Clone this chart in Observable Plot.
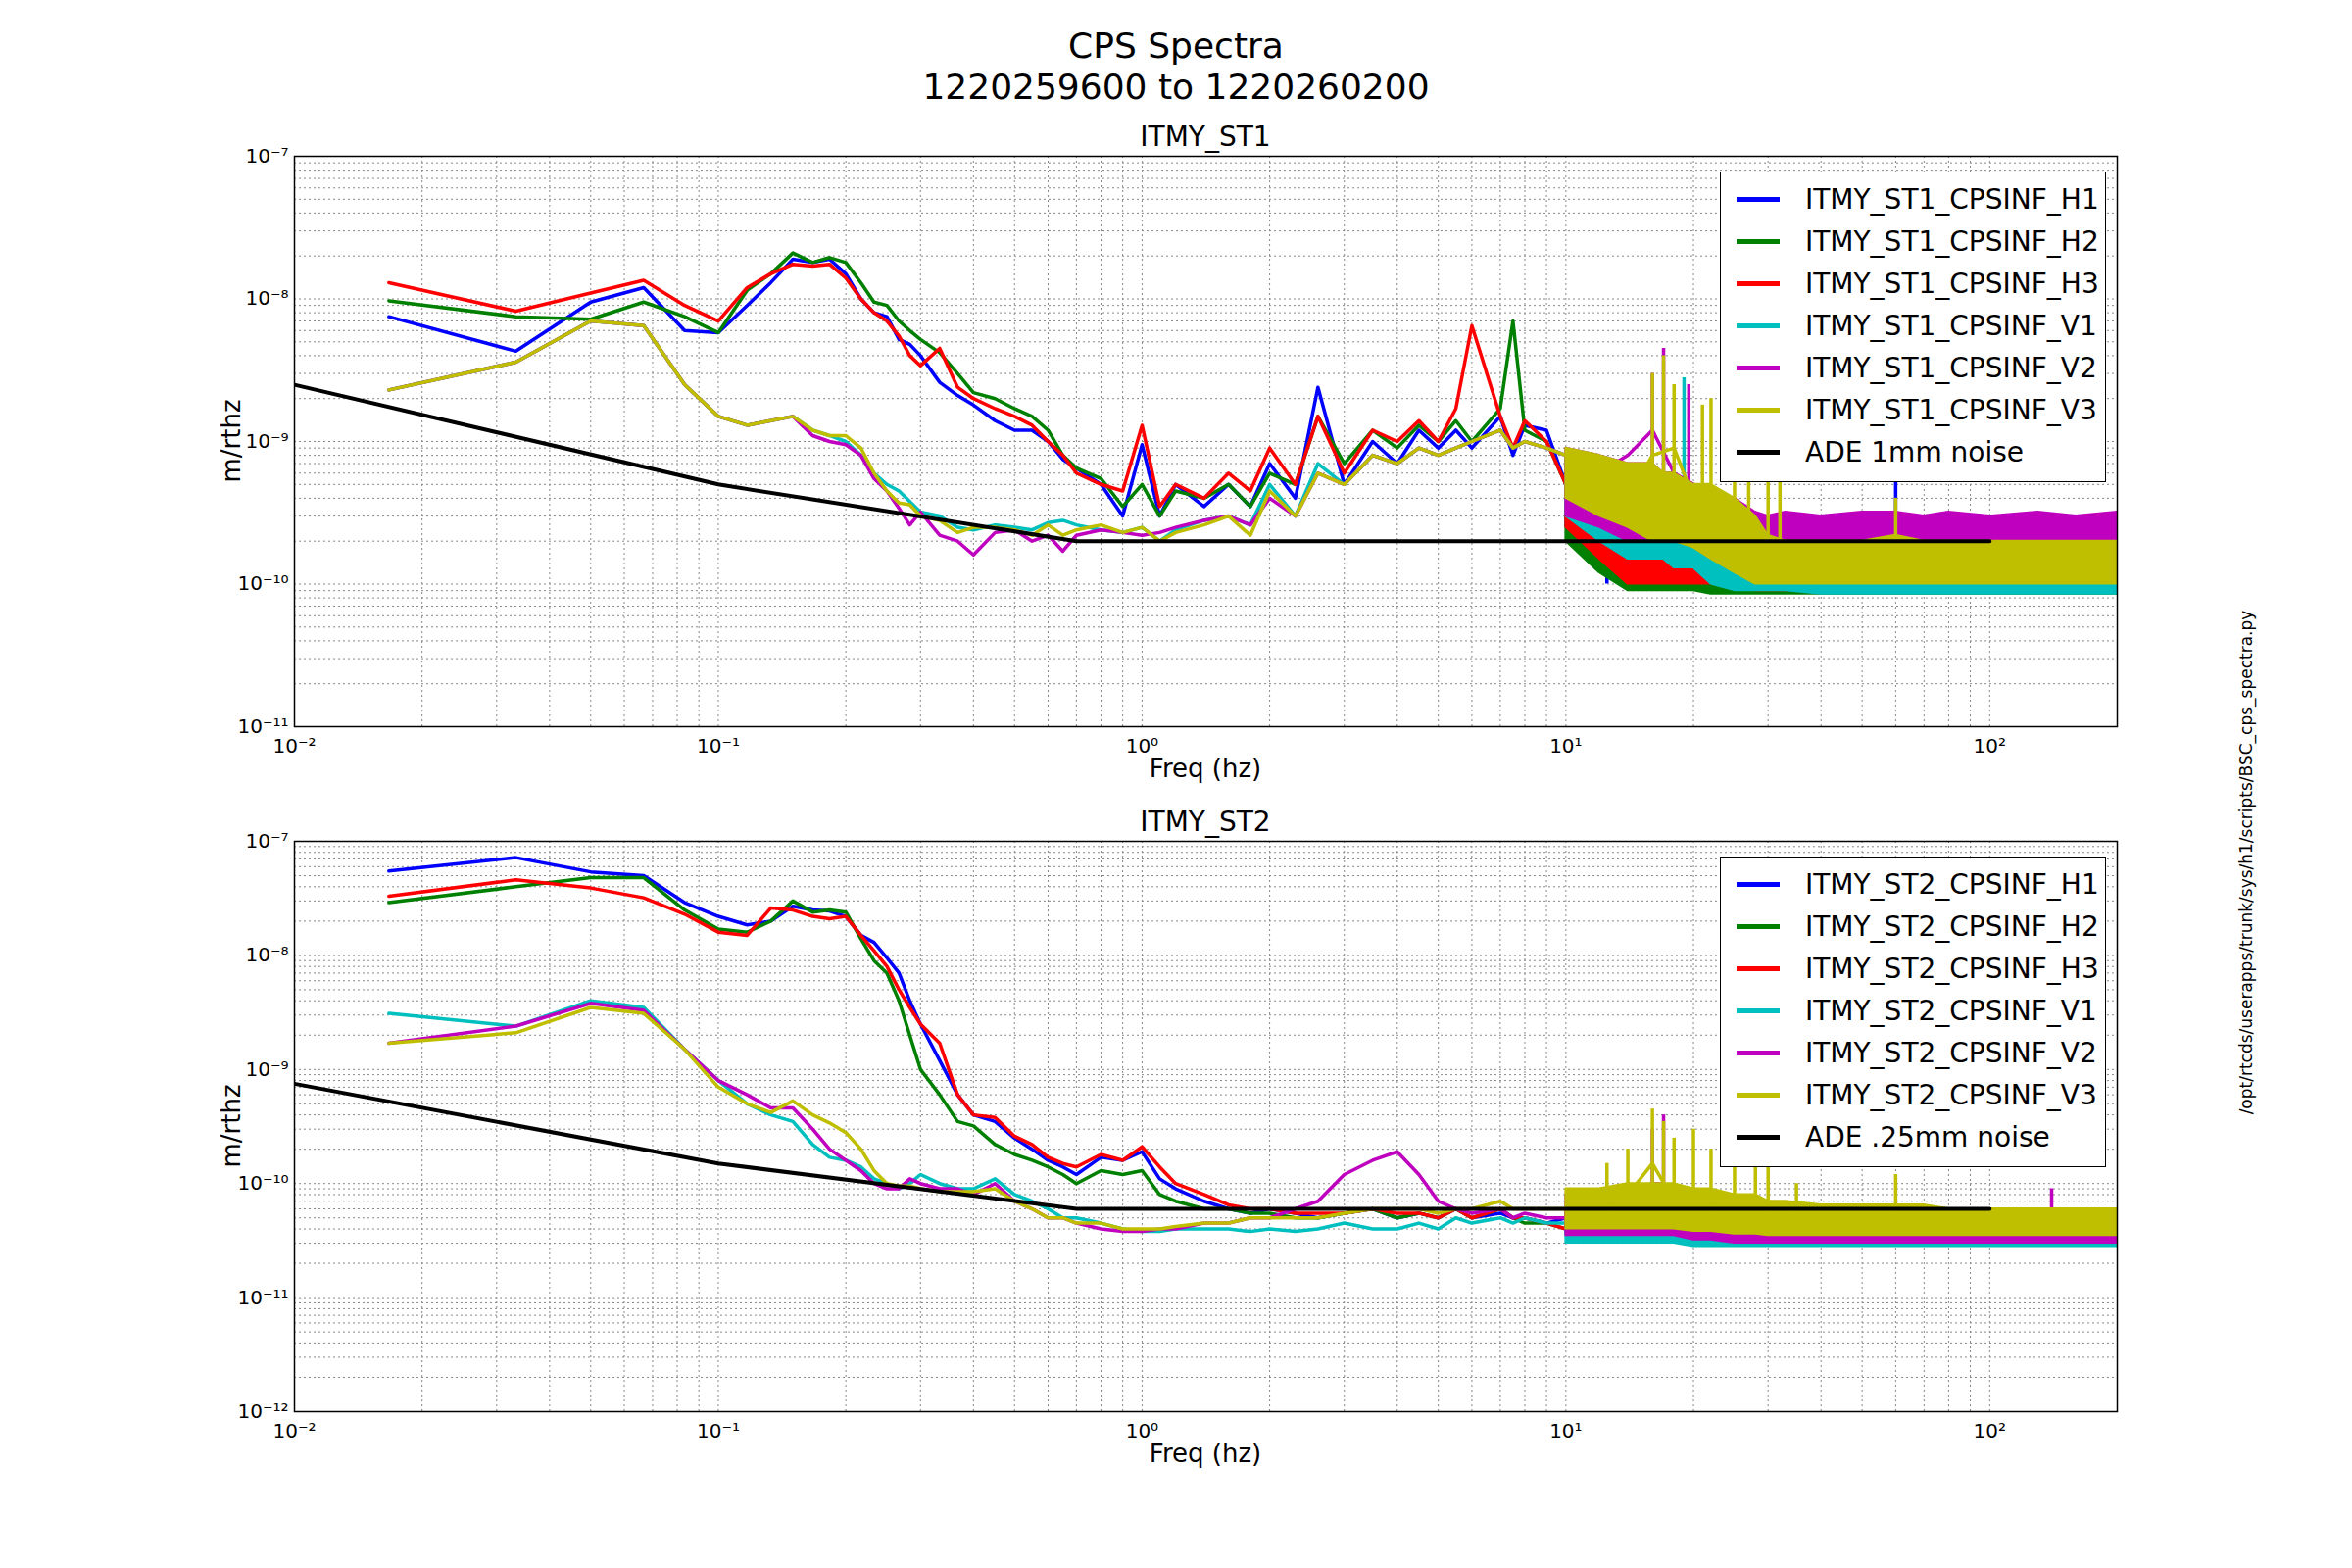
<!DOCTYPE html>
<html><head><meta charset="utf-8">
<script src="https://cdn.jsdelivr.net/npm/d3@7"></script>
<script src="https://cdn.jsdelivr.net/npm/@observablehq/plot@0.6"></script>
<style>
body{margin:0;background:#fff;font-family:"DejaVu Sans",sans-serif;}
#wrap{position:relative;width:2400px;height:1600px;}
.abs{position:absolute;}
.t{width:2400px;text-align:center;font-size:36px;}
.leg{border:1.5px solid #000;background:#fff;font-size:28px;padding:6px 0 8px 0;}
.leg div{display:flex;align-items:center;height:43px;}
.leg span.sw{display:inline-block;width:44px;height:5px;margin:0 26px 0 16px;}
</style></head><body>
<div id="wrap">
<div class="abs t" style="top:26px">CPS Spectra</div>
<div class="abs t" style="top:68px">1220259600 to 1220260200</div>
</div>
<script>
// frequencies (Hz) for the low-frequency lines
const freqs = [0.0167,0.0333,0.05,0.0667,0.0833,0.1,0.117,0.133,0.15,0.167,0.183,0.2,0.217,0.233,0.25,0.267,0.283,0.3,0.333,0.367,0.4,0.45,0.5,0.55,0.6,0.65,0.7,0.8,0.9,1.0,1.1,1.2,1.4,1.6,1.8,2.0,2.3,2.6,3.0,3.5,4,4.5,5,5.5,6,7,7.5,8,9,10,11,12,14,16,18,20];
// values in units of 1e-10 m/rthz
const st1_H1 = [75,43,95,120,60,58,90,130,190,180,190,150,100,80,75,52,48,40,26,21,18,14,12,12,10,7.5,6.5,5,3,9.5,3,5,3.5,5,3.5,7,4,24,5,10,7,12,9,12,9,15,8,13,12,5,4,2,3.5,1.7,2,1.5];
const st1_H2 = [97,75,72,95,75,58,115,150,210,180,195,180,130,95,90,70,60,52,42,30,22,20,17,15,12,8,6.5,5.5,3.5,5,3,4.5,4,5,3.5,6,5,15,7,12,9,13,10,14,10,17,70,12,10,5,3,1.6,2.5,1.5,1.6,1.5];
const st1_H3 = [130,82,110,135,90,70,120,150,175,170,175,140,100,80,70,55,40,34,45,24,20,17,15,13,10,8,6,5,4.5,13,3.5,5,4,6,4.5,9,5,15,6,12,10,14,10,17,65,15,9,14,10,5,4,2,2.5,1.5,1.8,1.4];
const st1_V1 = [23,36,70,65,25,15,13,14,15,12,11,10,8,6,5,4.5,3.8,3.2,3,2.5,2.4,2.6,2.5,2.4,2.7,2.8,2.6,2.4,2.3,2.5,2,2.4,2.8,3,2.6,5,3,7,5,8,7,9,8,9,10,12,9,10,9,8,6,5,4,3,2,1.5];
const st1_V2 = [23,36,70,65,25,15,13,14,15,11,10,9.5,8,5.5,4.5,3.4,2.6,3.2,2.2,2,1.6,2.3,2.4,2,2.2,1.7,2.2,2.4,2.3,2.2,2.3,2.5,2.8,3,2.6,4,3,6,5,8,7,9,8,9,10,12,9,10,9,8,7,6,8,12,6,5];
const st1_V3 = [23,36,70,65,25,15,13,14,15,12,11,11,9,6,4.5,3.7,3.6,3,2.8,2.3,2.5,2.5,2.4,2.2,2.6,2.2,2.4,2.6,2.3,2.5,2,2.3,2.6,3,2.2,4.5,3,6,5,8,7,9,8,9,10,12,9,10,9,8,6,5,4,8,9,4];
const st2_H1 = [550,720,540,500,290,220,185,200,270,250,245,220,150,130,95,70,40,25,12,6,4,3.5,2.5,2,1.6,1.4,1.2,1.7,1.6,1.9,1.1,0.9,0.7,0.6,0.55,0.6,0.55,0.5,0.55,0.6,0.5,0.55,0.5,0.6,0.5,0.55,0.5,0.5,0.45,0.5,0.45,0.4,0.4,0.45,0.4,0.4];
const st2_H2 = [290,400,480,480,250,170,160,200,300,240,250,240,140,90,70,40,20,10,6,3.5,3.2,2.2,1.8,1.6,1.4,1.2,1.0,1.3,1.2,1.3,0.8,0.7,0.6,0.6,0.55,0.55,0.5,0.5,0.55,0.6,0.5,0.55,0.5,0.6,0.5,0.6,0.5,0.45,0.45,0.4,0.4,0.4,0.35,0.4,0.4,0.4];
const st2_H3 = [330,460,390,320,230,160,150,260,250,220,210,220,150,110,80,50,35,25,17,6,4,3.8,2.6,2.2,1.7,1.5,1.4,1.8,1.6,2.1,1.4,1.0,0.8,0.65,0.6,0.6,0.55,0.55,0.55,0.6,0.55,0.55,0.5,0.6,0.5,0.6,0.5,0.5,0.45,0.4,0.4,0.4,0.4,0.4,0.45,0.4];
const st2_V1 = [31,24,40,35,15,8,5,4,3.5,2.2,1.7,1.6,1.4,1.1,1,0.9,1,1.2,1,0.9,0.9,1.1,0.8,0.7,0.6,0.5,0.5,0.45,0.4,0.38,0.38,0.4,0.4,0.4,0.38,0.4,0.38,0.4,0.45,0.4,0.4,0.45,0.4,0.5,0.45,0.5,0.45,0.5,0.45,0.45,0.45,0.4,0.35,0.35,0.35,0.35];
const st2_V2 = [17,24,38,33,15,8,6,4.6,4.6,3,2,1.6,1.3,1.0,0.9,0.9,1.1,1,0.9,0.9,0.8,1.0,0.7,0.6,0.5,0.5,0.45,0.4,0.38,0.38,0.4,0.4,0.45,0.45,0.5,0.5,0.6,0.7,1.2,1.6,1.9,1.2,0.7,0.6,0.55,0.6,0.5,0.55,0.5,0.5,0.45,0.4,0.4,0.45,0.4,0.4];
const st2_V3 = [17,21,35,31,15,7,5,4.2,5.3,4,3.4,2.8,2,1.3,1.0,0.95,0.95,0.9,0.85,0.85,0.85,0.9,0.7,0.6,0.5,0.5,0.45,0.45,0.4,0.4,0.4,0.42,0.45,0.45,0.5,0.5,0.5,0.5,0.55,0.6,0.6,0.6,0.55,0.6,0.6,0.7,0.6,0.6,0.6,0.6,0.5,0.6,0.8,1.5,0.7,0.8];
// high-frequency noise bands (units 1e-10): low and high envelope per series
const bandFreqs = [10,12,14,16,17,18,20,22,25,28,30,33,40,50,60,70,80,100,130,160,200];
const st1_lo = {
 H1:[2.5,1.5,1.2,1.5,1.2,1.2,1.0,1.0,0.9,0.9,0.9,0.9,0.9,0.9,0.9,0.9,0.9,0.9,0.9,0.9,0.9],
 H2:[2,1.2,0.9,0.9,0.9,0.9,0.9,0.85,0.85,0.85,0.85,0.85,0.85,0.85,0.85,0.85,0.85,0.85,0.85,0.85,0.85],
 H3:[2.5,1.5,1.0,1.0,1.0,1.0,1.0,1.0,1.0,0.9,0.9,0.9,0.9,0.9,0.9,0.9,0.9,0.9,0.9,0.9,0.9],
 V1:[3,2,1.5,1.5,1.5,1.3,1.3,1.0,0.9,0.9,0.9,0.9,0.85,0.85,0.85,0.85,0.85,0.85,0.85,0.85,0.85],
 V2:[3,2.5,2,2,2,2,2,1.8,1.6,1.5,1.5,1.5,1.5,1.5,1.5,1.5,1.5,1.5,1.5,1.5,1.5],
 V3:[4,3,2.5,2,2,2,1.8,1.5,1.2,1.0,1.0,1.0,1.0,1.0,1.0,1.0,1.0,1.0,1.0,1.0,1.0]};
const st1_hi = {
 H1:[6,4,3,4,3,2.5,2,1.8,1.3,1.3,1.3,1.3,1.3,1.3,1.3,1.3,1.3,1.3,1.3,1.3,1.3],
 H2:[5,3,2,2,1.6,1.5,1.5,1.3,1.3,1.3,1.3,1.3,1.3,1.3,1.3,1.3,1.3,1.3,1.3,1.3,1.3],
 H3:[7,4,2,2.2,2,2,2,1.8,1.6,1.3,1.3,1.3,1.3,1.3,1.3,1.3,1.3,1.3,1.3,1.3,1.3],
 V1:[8,6,5,5,4,4,4,3,2,1.3,1.3,1.3,1.3,1.3,1.3,1.3,1.3,1.3,1.3,1.3,1.3],
 V2:[9,8,7,7,6,6,5,4.5,4,3.2,3,3.2,3,3.2,3.2,3,3.2,3,3.2,3,3.2],
 V3:[9,8,7,7,6,6,5,5,4,3,2.2,2,2,2,2.2,2,2,2,2,2,2]};
const st2_lo = {
 H1:[0.4,0.35,0.3,0.3,0.3,0.3,0.3,0.3,0.3,0.3,0.3,0.3,0.3,0.3,0.3,0.3,0.3,0.3,0.3,0.3,0.3],
 H2:[0.35,0.3,0.3,0.3,0.3,0.3,0.3,0.3,0.3,0.3,0.3,0.3,0.3,0.3,0.3,0.3,0.3,0.3,0.3,0.3,0.3],
 H3:[0.4,0.35,0.35,0.35,0.35,0.35,0.35,0.35,0.3,0.3,0.3,0.3,0.3,0.3,0.3,0.3,0.3,0.3,0.3,0.3,0.3],
 V1:[0.3,0.3,0.3,0.3,0.3,0.3,0.28,0.28,0.28,0.28,0.28,0.28,0.28,0.28,0.28,0.28,0.28,0.28,0.28,0.28,0.28],
 V2:[0.35,0.35,0.35,0.35,0.35,0.35,0.32,0.32,0.3,0.3,0.3,0.3,0.3,0.3,0.3,0.3,0.3,0.3,0.3,0.3,0.3],
 V3:[0.4,0.4,0.4,0.4,0.4,0.4,0.38,0.38,0.36,0.36,0.35,0.35,0.35,0.35,0.35,0.35,0.35,0.35,0.35,0.35,0.35]};
const st2_hi = {
 H1:[0.6,0.55,0.5,0.5,0.5,0.5,0.5,0.5,0.5,0.5,0.5,0.5,0.5,0.5,0.5,0.5,0.5,0.5,0.5,0.5,0.5],
 H2:[0.55,0.5,0.5,0.5,0.5,0.5,0.5,0.5,0.5,0.5,0.5,0.5,0.5,0.5,0.5,0.5,0.5,0.5,0.5,0.5,0.5],
 H3:[0.6,0.55,0.55,0.55,0.55,0.55,0.55,0.5,0.5,0.5,0.5,0.5,0.5,0.5,0.5,0.5,0.5,0.5,0.5,0.5,0.5],
 V1:[0.5,0.5,0.5,0.5,0.5,0.5,0.45,0.45,0.45,0.45,0.45,0.45,0.45,0.45,0.45,0.45,0.45,0.45,0.45,0.45,0.45],
 V2:[0.8,0.8,0.9,1,1,0.9,0.8,0.7,0.7,0.65,0.6,0.6,0.55,0.55,0.55,0.55,0.55,0.55,0.55,0.55,0.55],
 V3:[0.9,0.9,1.0,1.0,1.0,1.0,0.9,0.9,0.8,0.8,0.7,0.7,0.65,0.65,0.65,0.65,0.6,0.6,0.6,0.6,0.6]};
// narrow spectral peaks above the noise bands: [channel, Hz, base, peak] (units 1e-10)
const st1_peaks = [["H1",12.5,1,4],["H1",16,1,5],["H1",60,1,6],["V1",19,2,28],["V2",16,3,30],["V2",17,3,45],["V2",19.5,3,25],
  ["V3",16,3,30],["V3",17,3,40],["V3",18,3,25],["V3",21,2,18],["V3",22,2,20],["V3",25,2,12],["V3",27,2,22],["V3",30,2,20],["V3",32,1.5,8],["V3",60,1.5,4]];
const st2_peaks = [["V2",16,0.5,3],["V2",17,0.5,4],["V3",12.5,0.5,1.5],["V3",14,0.5,2],["V3",16,0.5,4.5],["V3",17,0.5,3.5],["V3",18,0.5,2.5],
  ["V3",20,0.5,3],["V3",22,0.5,2],["V3",25,0.5,1.8],["V3",28,0.5,1.5],["V3",30,0.5,2.2],["V3",35,0.5,1],["V3",60,0.5,1.2],["V2",140,0.4,0.9]];
// ADE noise model lines
const adeFreqs = [0.01,0.1,0.7,100];
const ade1mm = [2.5e-9,5e-10,2e-10,2e-10];
const ade25 = [7.5e-10,1.5e-10,6e-11,6e-11];
const chans = ["H1","H2","H3","V1","V2","V3"];
const colors = {H1:"#0000ff",H2:"#008000",H3:"#ff0000",V1:"#00bfbf",V2:"#bf00bf",V3:"#bfbf00"};

const sup = {"-":"⁻","0":"⁰","1":"¹","2":"²","3":"³","4":"⁴","5":"⁵","6":"⁶","7":"⁷","8":"⁸","9":"⁹"};
const pow = v => "10" + String(Math.round(Math.log10(v))).split("").map(c=>sup[c]).join("");
function minorTicks(lo, hi){ const out=[]; for(let e=lo;e<hi;e++) for(let m=1;m<10;m++) out.push(m*10**e); out.push(10**hi); return out;}

const PT=41, PH=582, ML=300, MR=240;
function panel(name, series, lo, hi, peaks, ade, adeLabel, ymin, plotTop){
  const wrap = document.getElementById("wrap");
  const rows=[]; const bandRows=[];
  chans.forEach(c=>{
    series[c].forEach((v,i)=>rows.push({ch:c,f:freqs[i],v:v*1e-10}));
    bandFreqs.forEach((f,i)=>bandRows.push({ch:c,f,lo:lo[c][i]*1e-10,hi:hi[c][i]*1e-10}));
  });
  const peakRows = peaks.map(([ch,f,b,p])=>({ch,f,b:b*1e-10,p:p*1e-10}));
  const adeRows = adeFreqs.map((f,i)=>({f,v:ade[i]}));
  const xg = minorTicks(-2,2).concat([200]);
  const e0 = Math.round(Math.log10(ymin));
  const yg = minorTicks(e0,-7);
  const yMajor = d3.range(e0,-6).map(e=>10**e);
  const marks=[Plot.ruleX(xg,{stroke:"#888",strokeDasharray:"2,3",strokeWidth:1}),
    Plot.ruleY(yg,{stroke:"#888",strokeDasharray:"2,3",strokeWidth:1})];
  chans.forEach(c=>{
    marks.push(Plot.line(rows.filter(d=>d.ch===c),{x:"f",y:"v",stroke:colors[c],strokeWidth:3.5}));
    marks.push(Plot.areaY(bandRows.filter(d=>d.ch===c),{x:"f",y1:"lo",y2:"hi",fill:colors[c],stroke:colors[c],strokeWidth:2}));
    marks.push(Plot.ruleX(peakRows.filter(d=>d.ch===c),{x:"f",y1:"b",y2:"p",stroke:colors[c],strokeWidth:3.5}));
  });
  marks.push(Plot.line(adeRows,{x:"f",y:"v",stroke:"#000",strokeWidth:4}));
  marks.push(Plot.frame({stroke:"#000",strokeWidth:1.5}));
  marks.push(Plot.axisX({ticks:[0.01,0.1,1,10,100],tickFormat:pow,tickSize:0,fontSize:20,tickPadding:12,label:null}));
  marks.push(Plot.axisY({ticks:yMajor,tickFormat:pow,tickSize:0,fontSize:20,tickPadding:6,label:null}));
  const svg = Plot.plot({width:2400,height:700,marginTop:PT,marginBottom:700-PT-PH,marginLeft:ML,marginRight:MR,
    style:{fontFamily:"DejaVu Sans",color:"#000",background:"transparent"},
    x:{type:"log",domain:[0.01,200]},y:{type:"log",domain:[ymin,1e-7]},clip:true,marks});
  svg.style.position="absolute"; svg.style.top=(plotTop-PT)+"px"; svg.style.left="0px";
  wrap.appendChild(svg);
  const add=(html,css)=>{const d=document.createElement("div");d.className="abs";d.style.cssText=css;d.innerHTML=html;wrap.appendChild(d);};
  const pw=2400-ML-MR;
  add(name,`top:${plotTop-36}px;left:${ML}px;width:${pw}px;text-align:center;font-size:28px;`);
  add("Freq (hz)",`top:${plotTop+PH+28}px;left:${ML}px;width:${pw}px;text-align:center;font-size:26px;`);
  add("m/rthz",`top:${plotTop+PH/2}px;left:236px;font-size:26px;transform:translate(-50%,-50%) rotate(-90deg);`);
  const leg=document.createElement("div"); leg.className="abs leg";
  leg.style.cssText=`top:${plotTop+16}px;left:1755px;width:392px;`;
  chans.forEach(c=>{leg.innerHTML+=`<div><span class="sw" style="background:${colors[c]}"></span>ITMY_${name.slice(5)}_CPSINF_${c}</div>`;});
  leg.innerHTML+=`<div><span class="sw" style="background:#000"></span>${adeLabel}</div>`;
  wrap.appendChild(leg);
}
panel("ITMY_ST1",{H1:st1_H1,H2:st1_H2,H3:st1_H3,V1:st1_V1,V2:st1_V2,V3:st1_V3},st1_lo,st1_hi,st1_peaks,ade1mm,"ADE 1mm noise",1e-11,159);
panel("ITMY_ST2",{H1:st2_H1,H2:st2_H2,H3:st2_H3,V1:st2_V1,V2:st2_V2,V3:st2_V3},st2_lo,st2_hi,st2_peaks,ade25,"ADE .25mm noise",1e-12,858);
const p=document.createElement("div");p.className="abs";
p.style.cssText="top:880px;left:2292px;font-size:17px;transform:translate(-50%,-50%) rotate(-90deg);white-space:nowrap;";
p.textContent="/opt/rtcds/userapps/trunk/sys/h1/scripts/BSC_cps_spectra.py";
document.getElementById("wrap").appendChild(p);
</script></body></html>
